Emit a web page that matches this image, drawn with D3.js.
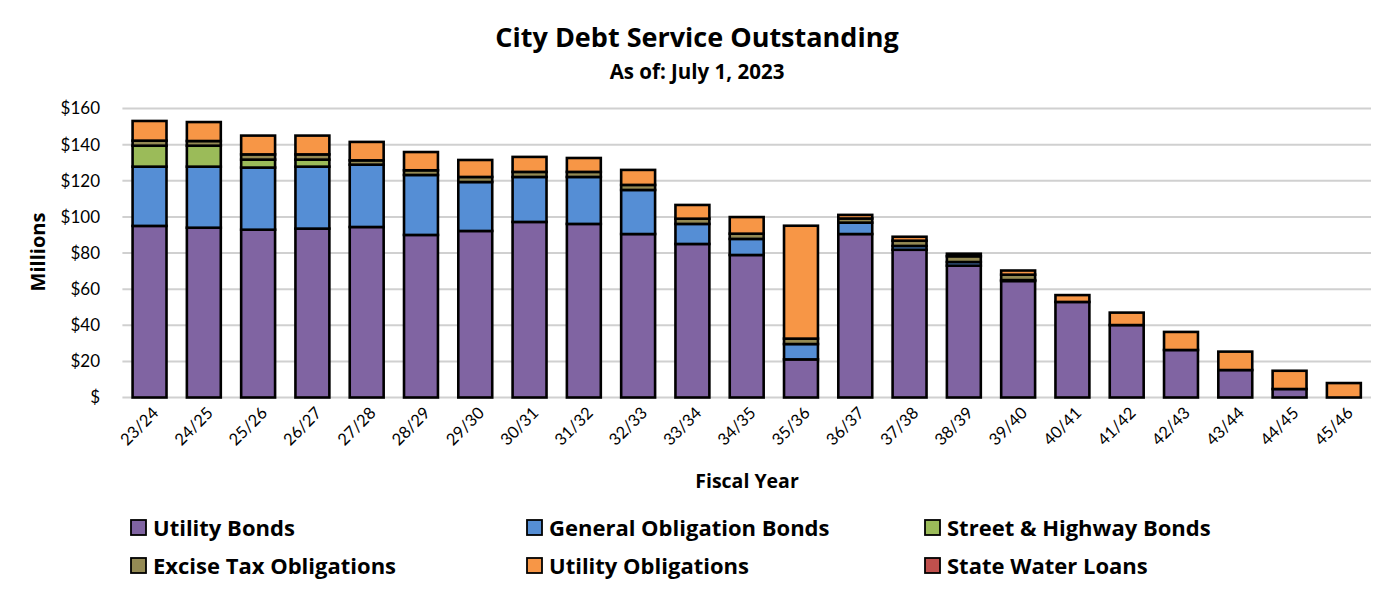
<!DOCTYPE html>
<html><head><meta charset="utf-8">
<script src="https://cdn.jsdelivr.net/npm/d3@7"></script>
<style>body{margin:0;background:#fff}text{font-family:Lato,"Open Sans",sans-serif}.b{font-family:"Open Sans",Lato,sans-serif;font-weight:bold}</style>
</head><body><svg id="c" width="1393" height="595"></svg>
<script>
const categories = ["23/24","24/25","25/26","26/27","27/28","28/29","29/30","30/31","31/32","32/33","33/34","34/35","35/36","36/37","37/38","38/39","39/40","40/41","41/42","42/43","43/44","44/45","45/46"];
const utilityBonds = [95.0,94.0,92.9,93.5,94.4,90.0,92.2,97.2,96.1,90.5,85.0,78.9,21.1,90.5,81.8,73.0,64.5,52.9,40.1,26.3,15.2,4.7,0];
const generalObligation = [32.8,33.8,34.4,34.3,34.5,33.2,27.1,24.9,26.0,24.4,11.1,8.9,8.5,6.3,2.1,2.0,0.5,0,0,0,0,0,0];
const streetHighway = [11.6,11.6,4.4,3.9,0,0,0,0,0,0,0,0,0,0,0,0,0,0,0,0,0,0,0];
const exciseTax = [2.8,2.6,2.9,2.9,2.4,2.6,2.8,2.8,2.8,2.8,2.9,2.9,3.0,2.3,2.9,3.2,3.0,0,0,0,0,0,0];
const utilityObligations = [10.9,10.5,10.4,10.4,10.2,10.1,9.4,8.3,7.7,8.3,7.6,9.2,62.5,2.0,2.2,1.4,2.3,3.8,6.9,10.0,10.2,10.1,8.0];
const stateWaterLoans = [0,0,0,0,0,0,0,0,0,0,0,0,0,0,0,0,0,0,0,0,0,0,0];
const seriesNames = ["Utility Bonds","General Obligation Bonds","Street & Highway Bonds","Excise Tax Obligations","Utility Obligations","State Water Loans"];
const seriesColors = ["#8064A2","#558ED5","#9BBB59","#948A54","#F79646","#C0504D"];
const yTicks = [0,20,40,60,80,100,120,140,160];

const seriesData = [utilityBonds,generalObligation,streetHighway,exciseTax,utilityObligations,stateWaterLoans];
const rows = categories.map((c,i)=>{const r={cat:c};seriesNames.forEach((n,k)=>r[n]=seriesData[k][i]);return r;});
const stack = d3.stack().keys(seriesNames)(rows);

const svg = d3.select("#c");
const L=122.4, R=1371, T=108.5, B=397.5;
const x = d3.scaleBand().domain(categories).range([L,R]).paddingInner(0.375).paddingOuter(0.1875);
const y = d3.scaleLinear().domain([0,160]).range([B,T]);

svg.append("g").selectAll("line").data(yTicks).join("line")
  .attr("x1",L).attr("x2",R).attr("y1",d=>y(d)).attr("y2",d=>y(d))
  .attr("stroke","#d0d0d0").attr("stroke-width",2);

svg.append("g").selectAll("text").data(yTicks).join("text")
  .attr("x",100).attr("y",d=>y(d)).attr("dy","0.35em").attr("text-anchor","end")
  .attr("font-size",17).attr("fill","#000").text(d=>d===0?"$":"$"+d);

svg.append("text").attr("class","b").attr("transform","translate(38,252) rotate(-90)").attr("text-anchor","middle")
  .attr("font-size",20).attr("dy","0.35em").text("Millions");

svg.append("g").selectAll("g").data(stack).join("g")
  .attr("fill",(d,i)=>seriesColors[i])
  .selectAll("rect").data(d=>d.filter(p=>p[1]-p[0]>0)).join("rect")
  .attr("x",d=>x(d.data.cat)).attr("width",x.bandwidth())
  .attr("y",d=>y(d[1])).attr("height",d=>y(d[0])-y(d[1]))
  .attr("stroke","#000").attr("stroke-width",2.6);

svg.append("g").selectAll("text").data(categories).join("text")
  .attr("transform",d=>`translate(${x(d)+x.bandwidth()/2+6},${410}) rotate(-45)`)
  .attr("text-anchor","end").attr("dy","0.35em").attr("font-size",16.5).text(d=>d);

svg.append("text").attr("class","b").attr("x",747).attr("y",481).attr("dy","0.35em").attr("text-anchor","middle")
  .attr("font-size",19.5).text("Fiscal Year");

svg.append("text").attr("class","b").attr("x",697).attr("y",47).attr("text-anchor","middle")
  .attr("font-size",27).text("City Debt Service Outstanding");
svg.append("text").attr("class","b").attr("x",697).attr("y",79).attr("text-anchor","middle")
  .attr("font-size",20.5).text("As of: July 1, 2023");

const colX=[131,527,925], rowY=[528,566];
const lg = svg.append("g").selectAll("g").data(seriesNames).join("g")
  .attr("transform",(d,i)=>`translate(${colX[i%3]},${rowY[Math.floor(i/3)]})`);
lg.append("rect").attr("x",0).attr("y",-8).attr("width",15).attr("height",15)
  .attr("fill",(d,i)=>seriesColors[i]).attr("stroke","#000").attr("stroke-width",1.8);
lg.append("text").attr("class","b").attr("x",22).attr("y",0).attr("dy","0.35em").attr("font-size",22)
  .text(d=>d);
</script></body></html>
